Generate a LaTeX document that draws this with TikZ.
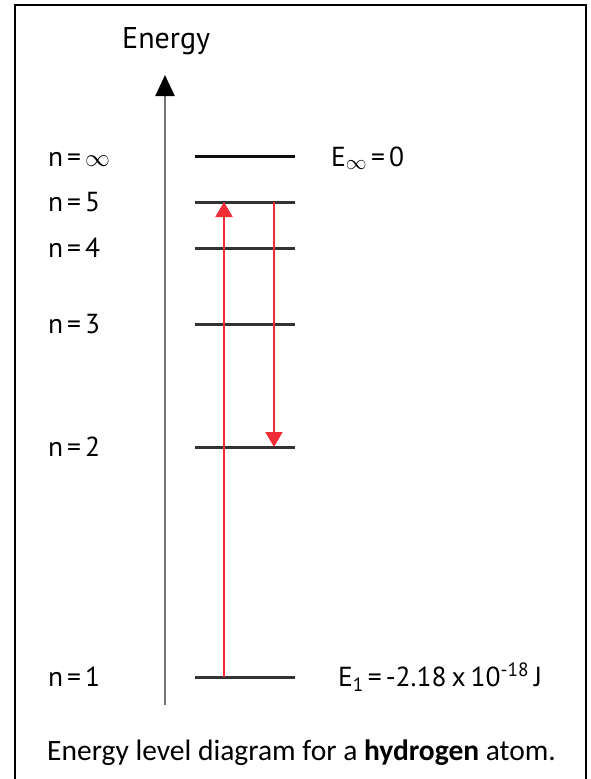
\documentclass[tikz,border=0pt]{standalone}
\usepackage{fontspec}
\setmainfont{PT Sans}
\newfontfamily\capfont{Carlito}
\usetikzlibrary{arrows.meta}

\definecolor{trred}{RGB}{240,45,55}
\newcommand{\eqgap}{\kern4pt=\kern4pt}
\tikzset{
  lvl/.style={draw=black!80, line width=3pt},
  lab/.style={anchor=base west, inner sep=0pt, font=\fontsize{27.5}{27.5}\selectfont},
  trans/.style={draw=trred, line width=2pt, -{Triangle[width=17pt,length=15pt]}},
}

\begin{document}
\begin{tikzpicture}[x=1pt, y=-1pt]
    \useasboundingbox (0,0) rectangle (590,779);
    % Frame
    \draw[line width=2.6pt] (15,779) -- (15,5) -- (586,5) -- (586,779);

    % Energy axis
    \coordinate (axbot) at (165,705);
    \coordinate (axtop) at (165,75);
    \node[lab, font=\fontsize{30}{30}\selectfont] (energy) at (122,48) {Energy};
    \draw[draw=black!55, line width=2.4pt, -{Triangle[width=19pt,length=21pt,color=black]}] (axbot) -- (axtop);

    % Draw levels
    \draw[lvl, draw=black!95] (195,156) coordinate (ninfw) -- (295,156) coordinate (ninfe);
    \draw[lvl] (195,202) coordinate (n5w) -- (295,202) coordinate (n5e);
    \draw[lvl] (195,248) coordinate (n4w) -- (295,248) coordinate (n4e);
    \draw[lvl] (195,324) coordinate (n3w) -- (295,324) coordinate (n3e);
    \draw[lvl] (195,447) coordinate (n2w) -- (295,447) coordinate (n2e);
    \draw[lvl] (195,677) coordinate (n1w) -- (295,677) coordinate (n1e);

    % Labels
    \node[lab] (linf) at (48,166) {n\eqgap$\infty$};
    \node[lab] (l5) at (48,211) {n\eqgap5};
    \node[lab] (l4) at (48,257) {n\eqgap4};
    \node[lab] (l3) at (48,333) {n\eqgap3};
    \node[lab] (l2) at (48,456) {n\eqgap2};
    \node[lab] (l1) at (48,686) {n\eqgap1};
    \node[lab] (einf) at (331,166) {E$_\infty$\eqgap0};
    \node[lab] (e1) at (338,686) {E\textsubscript{1}\eqgap-2.18\kern5pt x\kern5pt10\textsuperscript{-18}\kern5pt J};

    % Draw transitions
    \coordinate (up1) at (224,677);
    \coordinate (up5) at (224,202);
    \coordinate (dn5) at (274,202);
    \coordinate (dn2) at (274,447);
    \draw[trans] (up1) -- (up5);
    \draw[trans] (dn5) -- (dn2);

    % Caption
    \node[anchor=base west, inner sep=0pt, font=\capfont\fontsize{29.5}{29.5}\selectfont] (cap) at (47,760)
        {Energy level diagram for a \textbf{hydrogen} atom.};
\end{tikzpicture}
\end{document}
